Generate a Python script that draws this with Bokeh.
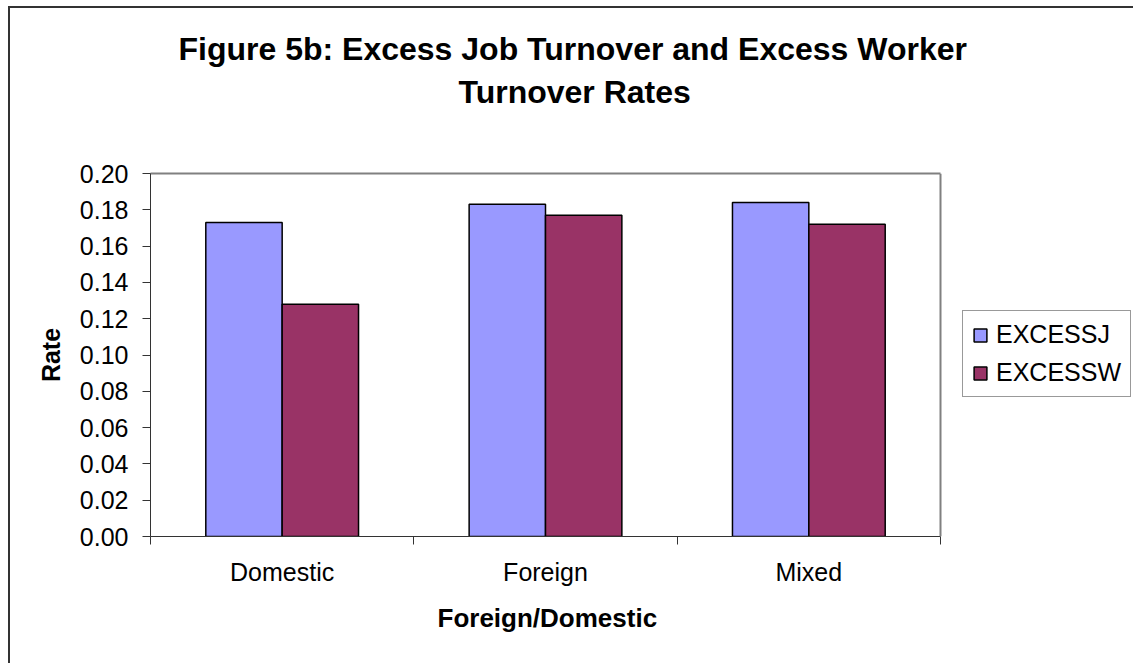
import numpy as np
from bokeh.plotting import figure
from bokeh.models import (ColumnDataSource, FixedTicker, NumeralTickFormatter, Legend,
                          LegendItem, Title, Range1d, InlineStyleSheet, LinearAxis, Span)
from bokeh.transform import dodge
from bokeh.embed import file_html
from bokeh.resources import INLINE

# ---- data ----
categories = ["Domestic", "Foreign", "Mixed"]
excess_j = [0.173, 0.183, 0.184]
excess_w = [0.128, 0.177, 0.172]
series_names = ["EXCESSJ", "EXCESSW"]
y_ticks = [0.00, 0.02, 0.04, 0.06, 0.08, 0.10, 0.12, 0.14, 0.16, 0.18, 0.20]
title_lines = ["Figure 5b: Excess Job Turnover and Excess Worker", "Turnover Rates"]
x_title = "Foreign/Domestic"
y_title = "Rate"

FONT = "Liberation Sans"
W, H = 1133, 663
LEFT, PLOT_W = 150, 790          # plot area: left edge and width in pixels

n = len(categories)
centers = [i + 0.5 for i in range(n)]
bounds = [float(i) for i in range(n + 1)]
src = ColumnDataSource(dict(x=centers, j=excess_j, w=excess_w))

# frame extends to the right edge so the legend (inside the frame) is not clipped;
# the category area covers only the first PLOT_W pixels
x_end = n * (W - LEFT) / PLOT_W
p = figure(width=W, height=H, output_backend="svg", toolbar_location=None,
           x_range=Range1d(0, x_end), y_range=Range1d(y_ticks[0], y_ticks[-1]),
           min_border_left=LEFT, min_border_right=0, min_border_top=173,
           min_border_bottom=127)
p.title.visible = False
p.background_fill_color = "white"
p.border_fill_color = "white"
p.outline_line_color = None
p.xgrid.visible = False
p.ygrid.visible = False

xax = p.below[0]
yax = p.left[0]

bw = 0.29
r1 = p.vbar(x=dodge("x", -bw / 2, range=p.x_range), top="j", width=bw, source=src,
            fill_color="#9999FF", line_color="black", line_width=1.5)
r2 = p.vbar(x=dodge("x", bw / 2, range=p.x_range), top="w", width=bw, source=src,
            fill_color="#993366", line_color="black", line_width=1.5)

# plot-area border: top (bounded axis without ticks) and right (span)
top_axis = LinearAxis(ticker=FixedTicker(ticks=[]), bounds=(0, n),
                      axis_line_color="#808080", axis_line_width=2,
                      major_tick_out=0, major_tick_in=0, minor_tick_out=0, minor_tick_in=0,
                      major_label_standoff=0)
p.add_layout(top_axis, "above")
p.add_layout(Span(location=n, dimension="height", line_color="#808080", line_width=2))

# y axis
yax.ticker = FixedTicker(ticks=y_ticks)
yax.formatter = NumeralTickFormatter(format="0.00")
yax.major_tick_out = 8
yax.major_tick_in = 0
yax.minor_tick_out = 0
yax.minor_tick_in = 0
yax.axis_line_color = "#333333"
yax.major_tick_line_color = "#333333"
yax.major_label_text_font = FONT
yax.major_label_text_font_size = "25px"
yax.major_label_text_color = "black"
yax.major_label_standoff = 14
yax.axis_label = y_title
yax.axis_label_text_font = FONT
yax.axis_label_text_font_style = "bold"
yax.axis_label_text_font_size = "25px"
yax.axis_label_text_color = "black"
yax.axis_label_standoff = 12

# x axis
xax.bounds = (0, n)
xax.ticker = FixedTicker(ticks=centers, minor_ticks=bounds)
xax.major_label_overrides = {c: name for c, name in zip(centers, categories)}
xax.major_tick_out = 0
xax.major_tick_in = 0
xax.minor_tick_out = 8
xax.minor_tick_in = 0
xax.minor_tick_line_color = "#333333"
xax.axis_line_color = "#333333"
xax.major_label_text_font = FONT
xax.major_label_text_font_size = "25px"
xax.major_label_text_color = "black"
xax.major_label_standoff = 13

# x-axis title, centred under the plot area
p.add_layout(Title(text=x_title, align="left", offset=287, standoff=24,
                   text_font=FONT, text_font_style="bold", text_font_size="26px",
                   text_color="black"), "below")

# chart title: spacer nearest the frame, then line 2, then line 1
p.add_layout(Title(text=" ", text_font_size="53px", standoff=0), "above")
offsets = [28, 308]
for line, off in reversed(list(zip(title_lines, offsets))):
    p.add_layout(Title(text=line, align="left", offset=off, standoff=5,
                       text_font=FONT, text_font_style="bold", text_font_size="32px",
                       text_color="black"), "above")

legend = Legend(items=[LegendItem(label=series_names[0], renderers=[r1]),
                       LegendItem(label=series_names[1], renderers=[r2])],
                location=(812, 139), orientation="vertical")
legend.label_text_font = FONT
legend.label_text_font_size = "25px"
legend.label_text_color = "black"
legend.glyph_width = 16
legend.glyph_height = 16
legend.label_standoff = 8
legend.padding = 9
legend.spacing = 9
legend.margin = 0
legend.border_line_color = "#333333"
legend.border_line_width = 1
legend.background_fill_color = "white"
legend.background_fill_alpha = 1.0
p.add_layout(legend)

p.stylesheets = [InlineStyleSheet(css="""
:host { position: relative; }
:host::after { content: ""; position: absolute; left: 8px; top: 6px; right: 0; bottom: 0;
  border-left: 2px solid #333333; border-top: 2px solid #333333; pointer-events: none; }
""")]

open("out.html", "w").write(file_html(p, INLINE))
